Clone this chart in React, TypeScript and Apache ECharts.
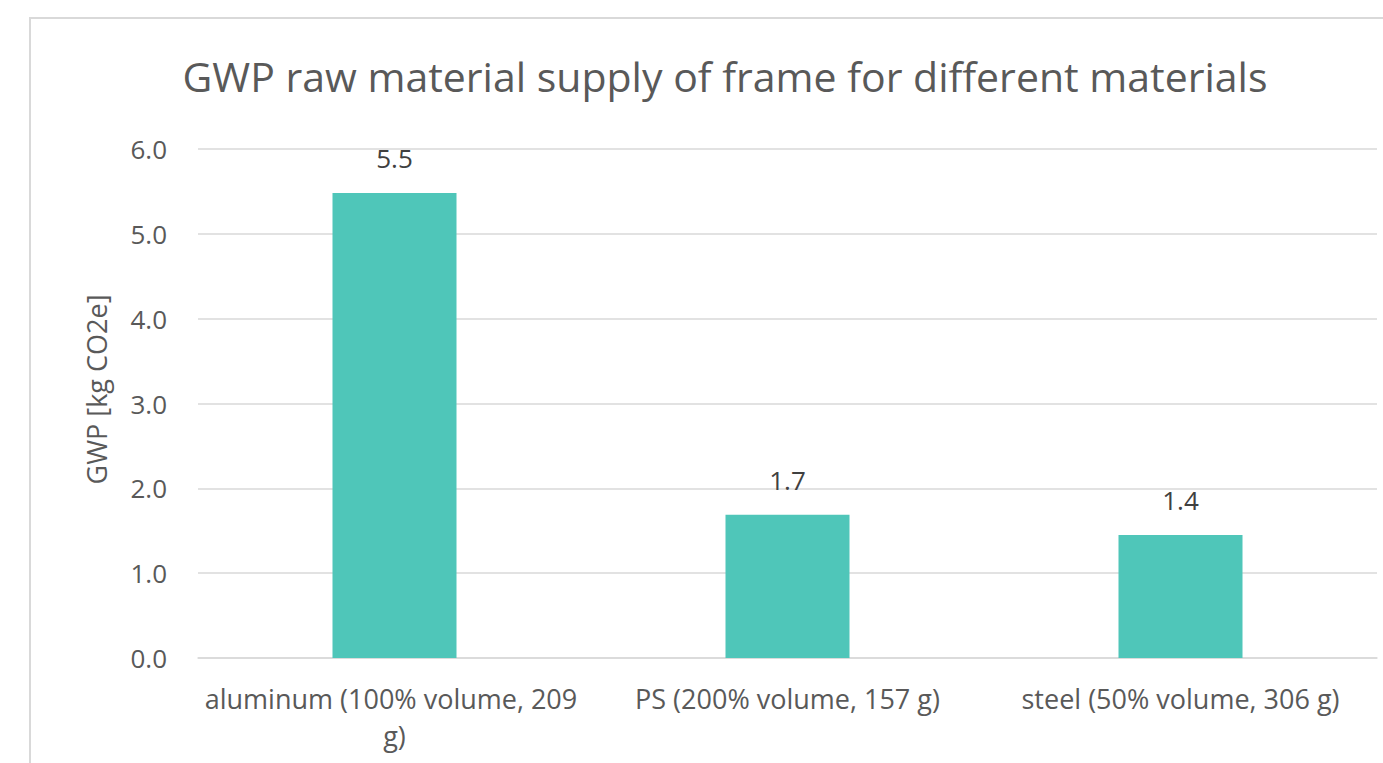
import React, { useEffect, useRef } from "react";
import * as echarts from "echarts";

const categories = [
  "aluminum (100% volume, 209 g)",
  "PS (200% volume, 157 g)",
  "steel (50% volume, 306 g)",
];
const gwpValues = [5.48, 1.69, 1.45];
const yTicks = { min: 0, max: 6, interval: 1 };
const titleText = "GWP raw material supply of frame for different materials";
const yAxisName = "GWP [kg CO2e]";

export default function App() {
  const ref = useRef<HTMLDivElement>(null);
  useEffect(() => {
    document.body.style.margin = "0";
    const chart = echarts.init(ref.current!, null, { renderer: "svg" });
    chart.setOption({
      animation: false,
      backgroundColor: "#ffffff",
      textStyle: { fontFamily: "Open Sans" },
      title: {
        text: titleText,
        left: 720,
        textAlign: "center",
        top: 50,
        textStyle: { fontSize: 41, fontWeight: "normal", color: "#595959", fontFamily: "Open Sans" },
      },
      graphic: [
        {
          type: "rect",
          shape: { x: 30, y: 18, width: 1400, height: 800 },
          style: { fill: "none", stroke: "#d9d9d9", lineWidth: 2 },
          silent: true,
        },
      ],
      grid: { left: 198, right: 6, top: 149, bottom: 105 },
      xAxis: {
        type: "category",
        data: categories,
        axisLine: { lineStyle: { color: "#d9d9d9", width: 1.5 } },
        axisTick: { show: false },
        axisLabel: {
          color: "#595959",
          fontSize: 27,
          margin: 22,
          width: 390,
          overflow: "break",
          lineHeight: 37,
          interval: 0,
        },
      },
      yAxis: {
        type: "value",
        min: yTicks.min,
        max: yTicks.max,
        interval: yTicks.interval,
        name: yAxisName,
        nameLocation: "middle",
        nameGap: 88,
        nameTextStyle: { color: "#595959", fontSize: 27, padding: [0, 0, 0, 28] },
        axisLine: { show: false },
        axisTick: { show: false },
        axisLabel: {
          color: "#595959",
          fontSize: 26,
          margin: 31,
          formatter: (v: number) => v.toFixed(1),
        },
        splitLine: { lineStyle: { color: "#d9d9d9", width: 1.5 } },
      },
      series: [
        {
          type: "bar",
          data: gwpValues,
          barWidth: 124,
          itemStyle: { color: "#4fc6b9" },
          label: {
            show: true,
            position: "top",
            distance: 22,
            color: "#404040",
            fontSize: 26,
            formatter: (p: any) => Number(p.value).toFixed(1),
          },
        },
      ],
    });
    return () => chart.dispose();
  }, []);
  return <div ref={ref} style={{ width: 1383, height: 763 }} />;
}
